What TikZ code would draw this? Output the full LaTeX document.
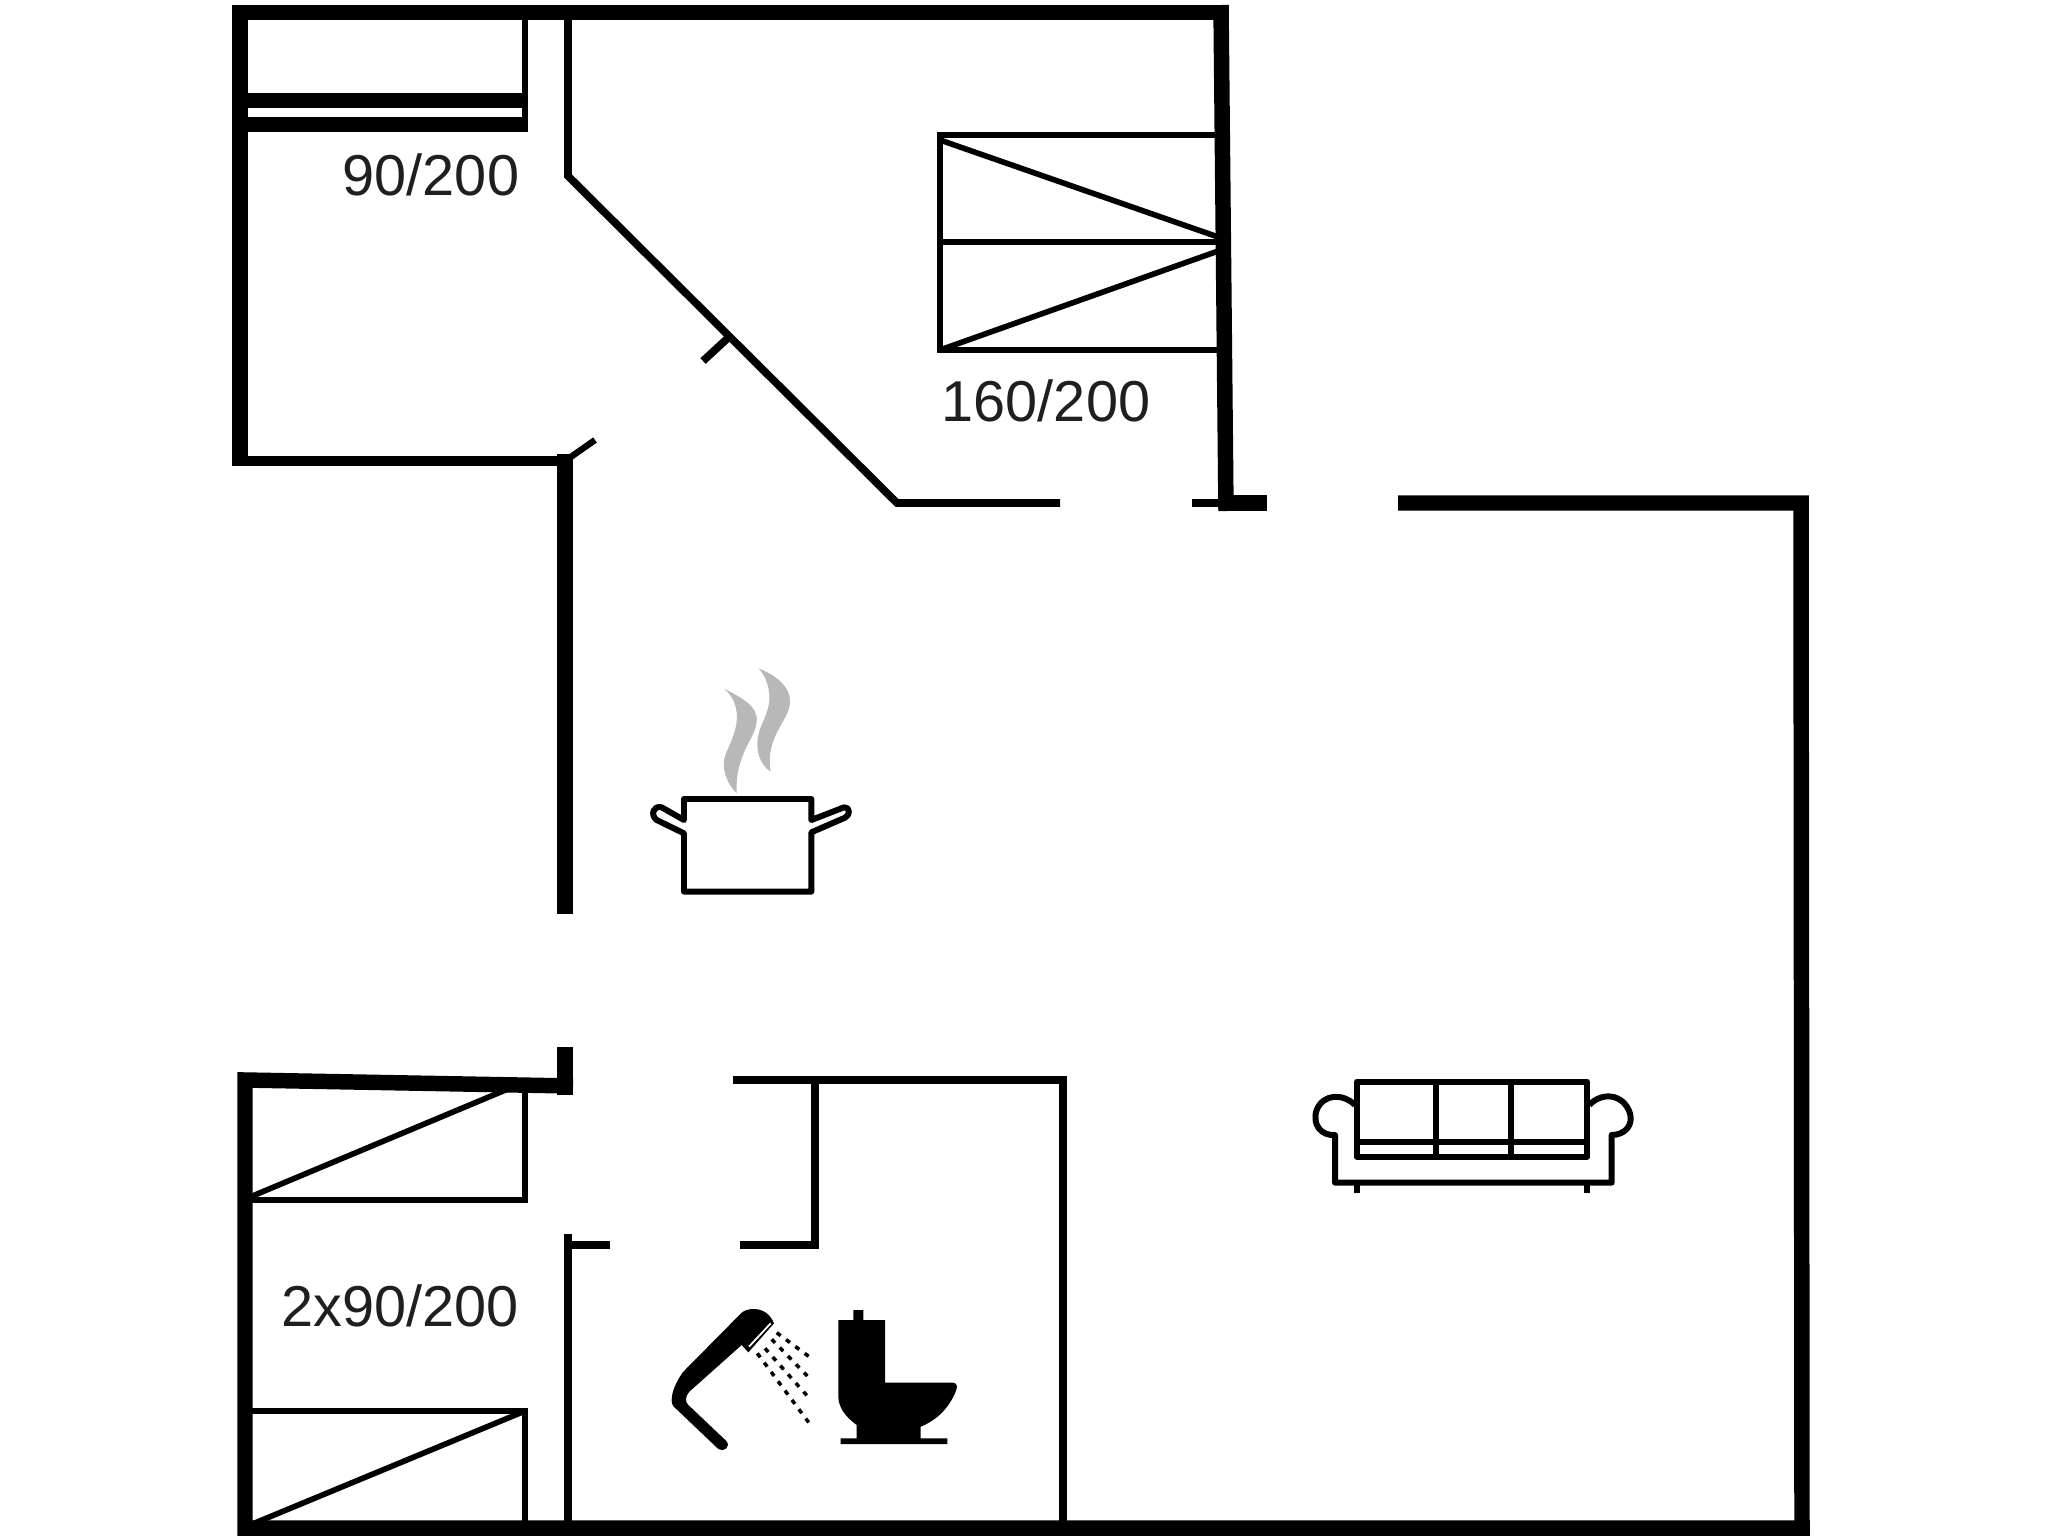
\documentclass[tikz,border=0pt]{standalone}
\usepackage{fontspec}
\setmainfont{Liberation Sans}
\begin{document}
\begin{tikzpicture}[
    x=.01cm, y=-.01cm,
    wall/.style      = {line width=4.4pt, black},
    midwall/.style   = {line width=3pt, black},
    thinwall/.style  = {line width=2.2pt, black},
    furn/.style      = {line width=1.6pt, black},
    sym/.style       = {line width=1.7pt, black, line join=round},
    drops/.style     = {line width=1pt, black, dash pattern=on 1.4pt off 1.9pt},
    steam/.style     = {fill=black!28, draw=none},
    bedlabel/.style  = {anchor=base west, inner sep=0pt, font=\fontsize{16.4}{18}\selectfont, text=black!88},
  ]
	\useasboundingbox (0,0) rectangle (2048,1536);

	% Aussenwaende oben
	\draw[wall] (240,461) -- (240,12.5) -- (1221,12.5);
	\draw[wall] (1221,5) -- (1226,511);
	\draw[midwall] (232,461) -- (565,461);
	\draw[wall] (565,454) -- (565,914);
	\draw[thinwall, line width=1.8pt] (565,461) -- (595,440);

	% Innenwand mit Schraege
	\draw[thinwall, line join=miter] (568,12) -- (568,176) -- (897,503) -- (1060,503);
	\draw[thinwall] (729,337) -- (703,361);
	\draw[thinwall] (1192,503) -- (1226,503);
	\draw[wall] (1220,503) -- (1267,503);

	% rechter Raum
	\draw[wall] (1398,503) -- (1801,503) -- (1802,1528) -- (243,1528);

	% Wand unten links
	\draw[wall] (245,1536) -- (245,1080) -- (573,1086);
	\draw[wall] (565,1047) -- (565,1095);
	\draw[thinwall] (568,1234) -- (568,1536);
	\draw[thinwall] (565,1245) -- (610,1245);

	% Bad
	\draw[thinwall] (733,1080) -- (1063,1080) -- (1063,1536);
	\draw[thinwall] (815,1080) -- (815,1245) -- (740,1245);

	% Bett oben links
	\draw[furn, line width=1.7pt] (525,12) -- (525,132);
	\draw[wall] (240,100.5) -- (527,100.5);
	\draw[wall] (240,124.5) -- (527,124.5);
	\node[bedlabel] (lblTop) at (342,195) {90/200};

	% Bett oben rechts
	\draw[furn] (1221,135) -- (940,135) -- (940,350) -- (1221,350);
	\draw[furn] (940,242) -- (1221,242);
	\draw[furn] (940,140) -- (1221,238);
	\draw[furn] (940,350) -- (1221,250);
	\node[bedlabel] (lblRight) at (941,421) {160/200};

	% Betten unten links
	\draw[furn] (525,1086) -- (525,1200) -- (250,1200);
	\draw[furn] (250,1197) -- (515,1086);
	\draw[furn] (250,1411) -- (525,1411) -- (525,1528);
	\draw[furn] (250,1525) -- (525,1411);
	\node[bedlabel] (lblLow) at (281,1326) {2x90/200};

	% Topf
	\begin{scope}[shift={(620,650)}, scale=1/3]
		\fill[steam] (310,115) .. controls (370,145) and (415,170) .. (410,215)
			.. controls (405,270) and (345,310) .. (350,430)
			.. controls (320,400) and (300,350) .. (318,310)
			.. controls (340,260) and (358,220) .. (348,175)
			.. controls (343,150) and (330,130) .. (310,115) -- cycle;
		\fill[steam] (415,55) .. controls (470,75) and (515,115) .. (510,160)
			.. controls (505,215) and (435,260) .. (452,365)
			.. controls (420,345) and (405,300) .. (415,255)
			.. controls (425,210) and (455,180) .. (447,125)
			.. controls (443,100) and (435,75) .. (415,55) -- cycle;
		\draw[sym] (192,510) -- (192,447) -- (574,447) -- (574,510)
			-- (672,472) .. controls (690,470) and (692,495) .. (675,503) -- (574,547)
			-- (574,725) -- (192,725) -- (192,550)
			-- (110,510) .. controls (90,495) and (100,465) .. (125,472) -- cycle;
	\end{scope}

	% Dusche
	\begin{scope}[shift={(650,1290)}, scale=1/3]
		\fill[black] (275,68) -- (100,245) .. controls (85,265) and (65,300) .. (65,330)
			.. controls (65,345) and (70,350) .. (80,358)
			-- (205,477) .. controls (220,488) and (245,470) .. (228,452)
			-- (115,345) .. controls (105,335) and (105,320) .. (118,305)
			-- (275,165) -- (295,187) -- (372,100)
			.. controls (360,70) and (335,55) .. (305,57)
			.. controls (295,58) and (285,60) .. (275,68) -- cycle;
		\draw[white, line width=.5pt] (297,170) -- (362,100);
		\draw[drops] (380,128) -- (480,202);
		\draw[drops] (365,148) -- (472,258);
		\draw[drops] (345,175) -- (472,318);
		\draw[drops] (322,190) -- (478,400);

		% WC
		\fill[black] (610,90) -- (610,60) -- (640,60) -- (640,90) -- (705,90) -- (705,278)
			-- (910,278) .. controls (925,280) and (922,295) .. (915,310)
			.. controls (890,365) and (850,395) .. (812,410) -- (812,445) -- (892,445) -- (892,462)
			-- (572,462) -- (572,445) -- (620,445) -- (620,405)
			.. controls (585,380) and (565,350) .. (565,320) -- (565,90) -- cycle;
	\end{scope}

	% Sofa
	\begin{scope}[shift={(1300,1060)}, scale=1/3]
		\draw[sym] (170,65) rectangle (862,290);
		\draw[sym] (408,65) -- (408,290);
		\draw[sym] (632,65) -- (632,290);
		\draw[sym] (170,245) -- (862,245);
		\draw[sym] (165,135) .. controls (130,100) and (70,100) .. (50,150)
			.. controls (35,195) and (65,228) .. (105,225)
			-- (105,368) -- (935,368) -- (935,225)
			.. controls (975,225) and (1000,195) .. (990,160)
			.. controls (970,100) and (905,95) .. (868,135);
		\draw[sym] (170,368) -- (170,400);
		\draw[sym] (862,368) -- (862,400);
	\end{scope}
\end{tikzpicture}
\end{document}
